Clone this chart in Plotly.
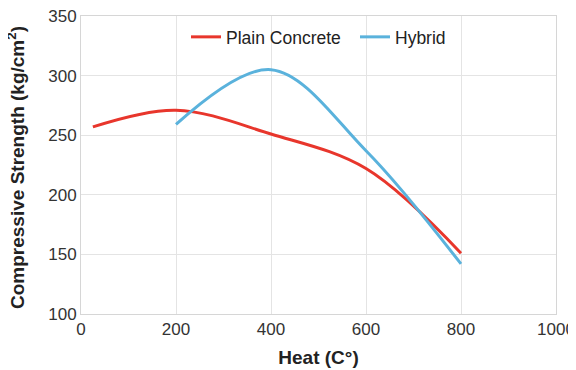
import plotly.graph_objects as go

plain_x = [25, 200, 400, 600, 800]
plain_y = [257, 271, 251, 222, 151]
hybrid_x = [200, 400, 600, 800]
hybrid_y = [259, 305, 237, 142]

fig = go.Figure()
fig.add_trace(go.Scatter(x=plain_x, y=plain_y, mode="lines", name="Plain Concrete", legendwidth=124,
                         line=dict(color="#e8362c", width=3, shape="spline", smoothing=1.0)))
fig.add_trace(go.Scatter(x=hybrid_x, y=hybrid_y, mode="lines", name="Hybrid",
                         line=dict(color="#5ab2dc", width=3, shape="spline", smoothing=1.0)))

font = "Liberation Sans, Arial, sans-serif"
# page body has an 8px default margin; figure is sized to fit the 576x370 window
fig.update_layout(
    width=568, height=362,
    margin=dict(l=73, r=20, t=8, b=56),
    paper_bgcolor="white", plot_bgcolor="white",
    font=dict(family=font, size=16, color="#222"),
    showlegend=True,
    legend=dict(orientation="h", x=0.5, xanchor="center", y=0.99, yanchor="top",
                font=dict(size=17.5, color="#222"), bgcolor="rgba(0,0,0,0)"),
)
fig.update_xaxes(range=[0, 1000], tickvals=[0, 200, 400, 600, 800, 1000],
                 showgrid=True, gridcolor="#e4e4e4", gridwidth=1, automargin=False,
                 showline=True, linecolor="#d6d6d6", linewidth=1, zeroline=False, mirror=True,
                 ticks="", tickfont=dict(size=17, color="#333"), ticklabeloverflow="allow",
                 title=dict(text="<b>Heat (C°)</b>", font=dict(size=19, color="#222"), standoff=12))
fig.update_yaxes(range=[100, 350], tickvals=[100, 150, 200, 250, 300, 350],
                 showgrid=True, gridcolor="#e4e4e4", gridwidth=1, automargin=False,
                 showline=True, linecolor="#d6d6d6", linewidth=1, zeroline=False, mirror=True,
                 ticks="", tickfont=dict(size=17, color="#333"), ticklabeloverflow="allow")
fig.add_annotation(text="<b>Compressive Strength (kg/cm<sup>2</sup>)</b>", textangle=-90,
                   xref="paper", yref="paper", x=0, y=0.49, xanchor="right", yanchor="middle",
                   xshift=-51, showarrow=False, font=dict(size=19, color="#222"))

fig.write_html("out.html")
